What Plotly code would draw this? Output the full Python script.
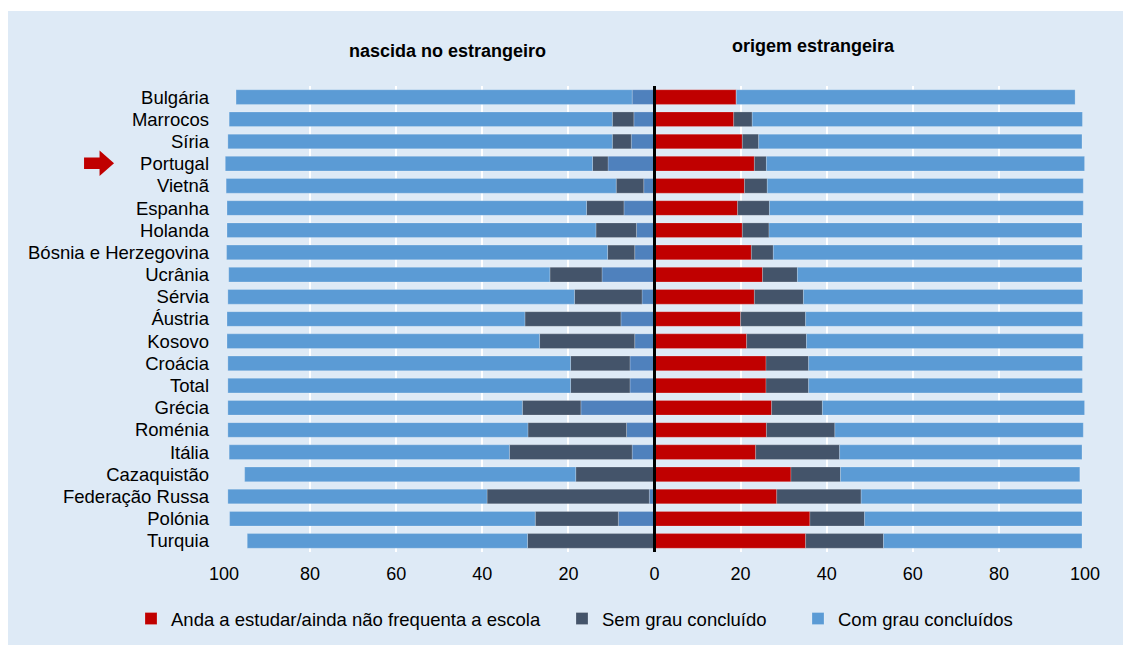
import plotly.graph_objects as go

countries = ["Bulgária", "Marrocos", "Síria", "Portugal", "Vietnã", "Espanha", "Holanda",
             "Bósnia e Herzegovina", "Ucrânia", "Sérvia", "Áustria", "Kosovo", "Croácia",
             "Total", "Grécia", "Roménia", "Itália", "Cazaquistão", "Federação Russa",
             "Polónia", "Turquia"]

# nascida no estrangeiro (left side, %)
born_estudar = [5.2, 4.8, 5.4, 10.8, 2.5, 7.1, 4.2, 4.6, 12.2, 2.9, 7.8, 4.6, 5.7,
                5.7, 17.1, 6.5, 5.2, 0.0, 1.2, 8.4, 0.0]
born_sem = [0.0, 5.0, 4.4, 3.6, 6.4, 8.7, 9.4, 6.3, 12.1, 15.7, 22.3, 22.1, 13.8,
            13.8, 13.6, 22.9, 28.5, 18.3, 37.7, 19.3, 29.5]
born_com = [92.0, 89.0, 89.3, 85.3, 90.6, 83.5, 85.7, 88.5, 74.6, 80.5, 69.2, 72.6, 79.6,
            79.6, 68.4, 69.7, 65.1, 76.9, 60.2, 71.0, 65.1]

# origem estrangeira (right side, %)
orig_estudar = [19.0, 18.4, 20.4, 23.2, 20.9, 19.3, 20.4, 22.5, 25.1, 23.2, 20.0, 21.4, 25.9,
                25.9, 27.2, 26.0, 23.5, 31.7, 28.4, 36.1, 35.1]
orig_sem = [0.0, 4.3, 3.8, 2.8, 5.3, 7.4, 6.2, 5.1, 8.1, 11.4, 15.1, 13.9, 9.9,
            9.9, 11.8, 15.9, 19.5, 11.5, 19.6, 12.7, 18.1]
orig_com = [78.7, 76.7, 75.1, 73.9, 73.4, 72.9, 72.7, 71.8, 66.1, 64.9, 64.3, 64.3, 63.6,
            63.6, 60.9, 57.7, 56.3, 55.6, 51.3, 50.5, 46.1]

series_names = ["Anda a estudar/ainda não frequenta a escola", "Sem grau concluído",
                "Com grau concluídos"]
tick_vals = [-100, -80, -60, -40, -20, 0, 20, 40, 60, 80, 100]
tick_text = ["100", "80", "60", "40", "20", "0", "20", "40", "60", "80", "100"]

RED = "#C00000"
DARK = "#44546A"
LIGHT = "#5B9BD5"
MID = "#4F81BD"
BG = "#DEEAF6"

fig = go.Figure()
line = dict(width=0.6, color="rgba(255,255,255,0.35)")

left_colors = [MID, DARK, LIGHT]
for name, vals, col in zip(series_names, [born_estudar, born_sem, born_com], left_colors):
    fig.add_trace(go.Bar(y=countries, x=[-v for v in vals], orientation="h", name=name,
                         marker=dict(color=col, line=line), showlegend=False,
                         hovertemplate="%{y}: %{customdata}<extra></extra>", customdata=vals))

right_colors = [RED, DARK, LIGHT]
legend_ids = ["legend", "legend2", "legend3"]
for name, vals, col, lg in zip(series_names, [orig_estudar, orig_sem, orig_com],
                               right_colors, legend_ids):
    fig.add_trace(go.Bar(y=countries, x=vals, orientation="h", name=name,
                         marker=dict(color=col, line=line), showlegend=True, legend=lg))

# page has an 8px body margin: figure origin sits at (8, 8) of the screen
OX, OY = 8, 8
SW, SH = 1131, 645
# plot area in screen pixels
L, R, T, B = 224, 1085.3, 86, 552
W, H = SW - OX, SH - OY
def px(x):
    return (x - L) / (R - L)
def py(y):
    return (B - y) / (B - T)
def cx(x):
    return (x - OX) / W
def cy(y):
    return 1 - (y - OY) / H

# thin white strip above the light-blue panel
fig.add_shape(type="rect", xref="paper", yref="paper", x0=px(0), x1=px(1140), y0=py(11),
              y1=py(0), fillcolor="white", line=dict(width=0), layer="below")

# zero line
fig.add_shape(type="line", xref="x", yref="paper", x0=0, x1=0, y0=0, y1=1,
              line=dict(color="black", width=3))

# arrow next to Portugal
pts = [(84, 157.5), (99.5, 157.5), (99.5, 150.5), (114, 163.2), (99.5, 176), (99.5, 169),
       (84, 169)]
path = "M " + " L ".join(f"{px(x)},{py(y)}" for x, y in pts) + " Z"
fig.add_shape(type="path", xref="paper", yref="paper", path=path, fillcolor=RED,
              line=dict(width=0))

fig.add_annotation(text="<b>nascida no estrangeiro</b>", xref="paper", yref="paper",
                   x=px(448), y=py(51), xanchor="center", yanchor="middle",
                   showarrow=False, font=dict(size=18, color="black"))
fig.add_annotation(text="<b>origem estrangeira</b>", xref="paper", yref="paper",
                   x=px(814), y=py(46), xanchor="center", yanchor="middle",
                   showarrow=False, font=dict(size=18, color="black"))

leg_common = dict(orientation="h", xref="container", yref="container", xanchor="left",
                  yanchor="top", bgcolor="rgba(0,0,0,0)", font=dict(size=18.5),
                  itemwidth=30)

fig.update_layout(
    width=W, height=H,
    barmode="relative",
    bargap=0.34,
    paper_bgcolor=BG,
    plot_bgcolor=BG,
    margin=dict(l=L - OX, r=SW - R, t=T - OY, b=SH - B, pad=0, autoexpand=False),
    font=dict(family="Liberation Sans, Arial, sans-serif", size=18, color="black"),
    xaxis=dict(range=[-100, 100], tickvals=tick_vals, ticktext=tick_text,
               showgrid=True, gridcolor="white", gridwidth=2, zeroline=False,
               ticks="", ticklabelstandoff=9, fixedrange=True,
               tickfont=dict(size=18)),
    yaxis=dict(categoryorder="array", categoryarray=countries[::-1], showgrid=False,
               tickmode="array", tickvals=countries, ticktext=countries,
               ticks="", ticklabelstandoff=14, zeroline=False, tickfont=dict(size=18.5)),
    legend=dict(x=cx(131), y=cy(600), **leg_common),
    legend2=dict(x=cx(562), y=cy(600), **leg_common),
    legend3=dict(x=cx(798), y=cy(600), **leg_common),
)

fig.write_html("out.html",
               post_script="document.documentElement.style.overflow='hidden';"
                           "document.body.style.overflow='hidden';")
